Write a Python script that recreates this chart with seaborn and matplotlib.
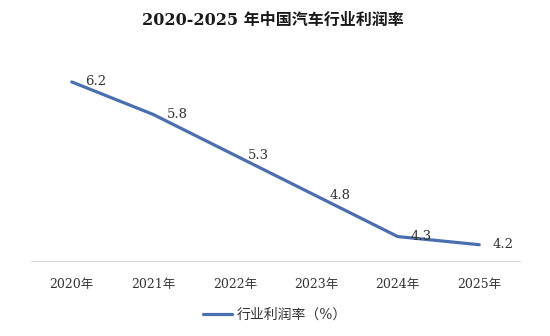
import matplotlib
matplotlib.use("Agg")
import matplotlib.pyplot as plt
import seaborn as sns
import pandas as pd

years = ["2020年", "2021年", "2022年", "2023年", "2024年", "2025年"]
profit_rate = [6.2, 5.8, 5.3, 4.8, 4.3, 4.2]
series_name = "行业利润率（%）"
title = "2020-2025 年中国汽车行业利润率"

sns.set_theme(style="white")
plt.rcParams['font.family'] = ['DejaVu Serif', 'Noto Sans CJK SC', 'DejaVu Sans']

df = pd.DataFrame({"idx": range(len(years)), "year": years, "value": profit_rate})

fig = plt.figure(figsize=(5.5, 3.36), dpi=100)
ax = fig.add_axes([31/550, 1-261/336, (520-31)/550, (261-57.5)/336])

color = "#4A6FAF"
sns.lineplot(data=df, x="idx", y="value", ax=ax, color=color, linewidth=2.3,
             label=series_name, legend=False)

for i, v in enumerate(profit_rate):
    ax.annotate(f"{v:.1f}", (i, v), xytext=(9.5, 0), textcoords="offset points",
                ha="left", va="center", fontsize=9.5, color="#333333")

ax.set_xlim(-0.5, len(years) - 0.5)
ax.set_ylim(4.0, 6.5)
ax.set_yticks([])
ax.set_xticks(range(len(years)))
ax.set_xticklabels(years, fontsize=9, color="#333333")
ax.tick_params(axis="x", which="major", length=0, pad=12)
ax.set_xticks([-0.5, 1.5, 3.5, 5.5], minor=True)
ax.tick_params(axis="x", which="minor", length=5, color="#D0D0D0", width=0.8, direction="out")
ax.set_xlabel("")
ax.set_ylabel("")
for s in ["top", "left", "right"]:
    ax.spines[s].set_visible(False)
ax.spines["bottom"].set_color("#D9D9D9")
ax.spines["bottom"].set_linewidth(0.8)

handles, labels = ax.get_legend_handles_labels()
fig.legend(handles, labels, loc="center", bbox_to_anchor=(0.5, 1-315/336), frameon=False,
           fontsize=10, handlelength=2.1, handletextpad=0.3, labelcolor="#333333")

fig.text(0.497, 1-20/336, title, ha="center", va="center", fontsize=11.5, fontweight="bold",
         color="#1a1a1a")

fig.savefig("out.png", dpi=100)
